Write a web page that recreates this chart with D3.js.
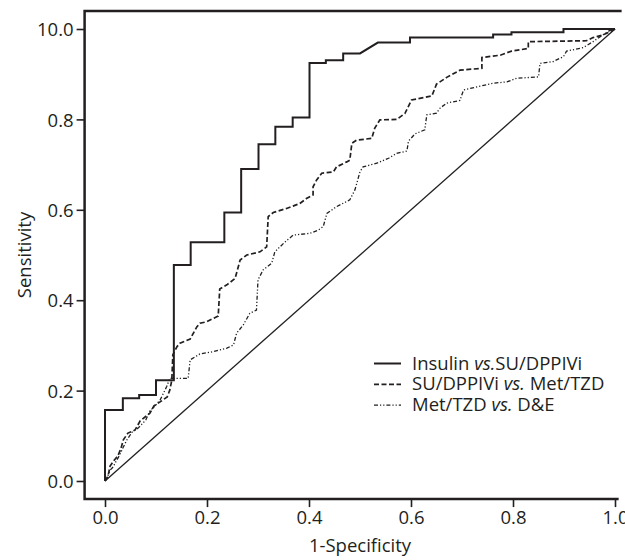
<!DOCTYPE html>
<html>
<head>
<meta charset="utf-8">
<script src="https://cdn.jsdelivr.net/npm/d3@7"></script>
<style>
  body { margin: 0; background: #fff; }
  text { font-family: "Open Sans", sans-serif; fill: #231f20; }
</style>
</head>
<body>
<div id="chart"></div>
<script>
// ROC curves, [1-specificity, sensitivity]
const insulinSu = [[0,0],[0,0.157],[0.035,0.157],[0.035,0.183],[0.067,0.183],[0.067,0.19],[0.1,0.19],[0.1,0.223],
  [0.135,0.223],[0.135,0.478],[0.168,0.478],[0.168,0.528],[0.234,0.528],[0.234,0.594],[0.267,0.594],[0.267,0.69],
  [0.301,0.69],[0.301,0.745],[0.334,0.745],[0.334,0.784],[0.368,0.784],[0.368,0.804],[0.401,0.804],[0.401,0.925],
  [0.433,0.925],[0.433,0.931],[0.467,0.931],[0.467,0.946],[0.5,0.946],[0.535,0.97],[0.598,0.97],[0.598,0.981],
  [0.761,0.981],[0.761,0.988],[0.797,0.988],[0.797,0.993],[0.899,0.993],[0.899,1],[1,1]];

const suMet = [[0,0],[0.006,0.011],[0.01,0.033],[0.018,0.046],[0.025,0.055],[0.031,0.071],[0.036,0.091],[0.045,0.106],
  [0.059,0.113],[0.069,0.133],[0.088,0.15],[0.096,0.166],[0.108,0.175],[0.122,0.186],[0.127,0.201],[0.131,0.223],
  [0.133,0.279],[0.141,0.297],[0.147,0.305],[0.167,0.314],[0.18,0.341],[0.186,0.349],[0.199,0.352],[0.222,0.365],
  [0.225,0.425],[0.239,0.434],[0.255,0.448],[0.265,0.489],[0.278,0.5],[0.304,0.507],[0.317,0.518],[0.32,0.585],
  [0.33,0.594],[0.356,0.603],[0.382,0.614],[0.395,0.625],[0.408,0.633],[0.408,0.651],[0.415,0.666],[0.425,0.681],
  [0.448,0.684],[0.454,0.695],[0.474,0.706],[0.48,0.71],[0.484,0.747],[0.493,0.754],[0.523,0.758],[0.529,0.781],
  [0.539,0.799],[0.572,0.8],[0.588,0.813],[0.601,0.843],[0.641,0.852],[0.65,0.878],[0.67,0.893],[0.696,0.909],
  [0.739,0.913],[0.739,0.937],[0.775,0.942],[0.797,0.951],[0.83,0.957],[0.83,0.972],[0.944,0.974],[0.957,0.981],
  [0.977,0.987],[0.99,0.994],[1,1]];

const metDe = [[0,0],[0.004,0.007],[0.01,0.024],[0.016,0.031],[0.02,0.04],[0.029,0.058],[0.035,0.073],[0.043,0.091],
  [0.053,0.108],[0.065,0.117],[0.08,0.135],[0.088,0.155],[0.098,0.166],[0.108,0.179],[0.121,0.209],[0.127,0.227],
  [0.163,0.227],[0.167,0.268],[0.186,0.281],[0.212,0.286],[0.239,0.294],[0.252,0.301],[0.258,0.327],[0.271,0.345],
  [0.284,0.371],[0.297,0.378],[0.3,0.445],[0.31,0.467],[0.327,0.482],[0.333,0.507],[0.353,0.529],[0.369,0.544],
  [0.402,0.548],[0.418,0.555],[0.428,0.563],[0.435,0.592],[0.454,0.607],[0.48,0.622],[0.49,0.644],[0.5,0.684],
  [0.506,0.695],[0.533,0.703],[0.556,0.714],[0.572,0.725],[0.592,0.73],[0.595,0.752],[0.608,0.768],[0.627,0.777],
  [0.631,0.81],[0.65,0.814],[0.657,0.825],[0.67,0.836],[0.696,0.842],[0.703,0.865],[0.729,0.872],[0.761,0.88],
  [0.788,0.883],[0.807,0.891],[0.85,0.894],[0.853,0.924],[0.879,0.928],[0.899,0.939],[0.905,0.951],[0.938,0.959],
  [0.957,0.972],[0.971,0.983],[0.99,0.997],[1,1]];

const refLine = [[0,0],[1,1]];

const xTicks = [0, 0.2, 0.4, 0.6, 0.8, 1.0];
const yTicks = [0, 0.2, 0.4, 0.6, 0.8, 1.0];
const yTickLabels = ["0.0", "0.2", "0.4", "0.6", "0.8", "10.0"];

const legendLabels = [
  ["Insulin ", "vs.", "SU/DPPIVi"],
  ["SU/DPPIVi ", "vs.", " Met/TZD"],
  ["Met/TZD ", "vs.", " D&E"]
];

const width = 625, height = 560;
const ink = "#231f20";

const svg = d3.select("#chart")
  .append("svg")
  .attr("width", width)
  .attr("height", height);

const x = d3.scaleLinear().domain([0, 1]).range([105, 615]);
const y = d3.scaleLinear().domain([0, 1]).range([481, 29]);

// frame: left, top, bottom (no right edge)
const fx0 = x(-0.04), fx1 = x(1.013), fy0 = y(-0.04), fy1 = y(1.04);
svg.append("path")
  .attr("d", `M${fx1},${fy1}H${fx0}V${fy0}H${fx1 - 3}`)
  .attr("fill", "none")
  .attr("stroke", ink)
  .attr("stroke-width", 2.5);

const yAxis = svg.append("g")
  .attr("transform", `translate(${fx0},0)`)
  .call(d3.axisLeft(y).tickValues(yTicks).tickSize(8).tickSizeOuter(0)
    .tickFormat((d, i) => yTickLabels[i]));
yAxis.select(".domain").remove();
yAxis.selectAll("line").attr("stroke", ink).attr("stroke-width", 1.6);
yAxis.selectAll("text").attr("x", -11).attr("dy", "0.36em")
  .style("font-size", "18.5px").style("font-family", "'Open Sans', sans-serif").attr("fill", ink);

const xAxis = svg.append("g")
  .attr("transform", `translate(0,${fy0})`)
  .call(d3.axisBottom(x).tickValues(xTicks).tickSize(8).tickSizeOuter(0).tickFormat(d3.format(".1f")));
xAxis.select(".domain").remove();
xAxis.selectAll("line").attr("stroke", ink).attr("stroke-width", 1.6);
xAxis.selectAll("text").attr("y", 12).attr("dy", "0.71em")
  .style("font-size", "18.5px").style("font-family", "'Open Sans', sans-serif").attr("fill", ink);

svg.append("text")
  .attr("x", x(0.5))
  .attr("y", 552)
  .attr("text-anchor", "middle")
  .style("font-size", "18.5px")
  .text("1-Specificity");

svg.append("text")
  .attr("transform", `translate(31,${(fy0 + fy1) / 2}) rotate(-90)`)
  .attr("text-anchor", "middle")
  .style("font-size", "18.5px")
  .text("Sensitivity");

const line = d3.line().x(d => x(d[0])).y(d => y(d[1]));

const series = [
  { data: refLine, width: 1.3, dash: null },
  { data: metDe, width: 1.3, dash: "4,2,1.2,2,1.2,2" },
  { data: suMet, width: 1.7, dash: "5,2.5" },
  { data: insulinSu, width: 2, dash: null }
];

svg.selectAll(".roc")
  .data(series)
  .enter()
  .append("path")
  .attr("class", "roc")
  .attr("d", d => line(d.data))
  .attr("fill", "none")
  .attr("stroke", ink)
  .attr("stroke-width", d => d.width)
  .attr("stroke-dasharray", d => d.dash)
  .attr("stroke-linejoin", "miter");

// legend
const legendStyles = [series[3], series[2], series[1]];
const legend = svg.append("g").attr("transform", "translate(374,0)");
const rows = legend.selectAll("g")
  .data(legendLabels)
  .enter()
  .append("g")
  .attr("transform", (d, i) => `translate(0,${369.5 + i * 20.8})`);

rows.append("line")
  .attr("x1", 0).attr("x2", 27)
  .attr("y1", -6).attr("y2", -6)
  .attr("stroke", ink)
  .attr("stroke-width", (d, i) => legendStyles[i].width)
  .attr("stroke-dasharray", (d, i) => legendStyles[i].dash);

const lt = rows.append("text")
  .attr("x", 38)
  .attr("y", 0)
  .style("font-size", "18.5px");
lt.append("tspan").text(d => d[0]);
lt.append("tspan").style("font-style", "italic").text(d => d[1]);
lt.append("tspan").text(d => d[2]);
</script>
</body>
</html>
